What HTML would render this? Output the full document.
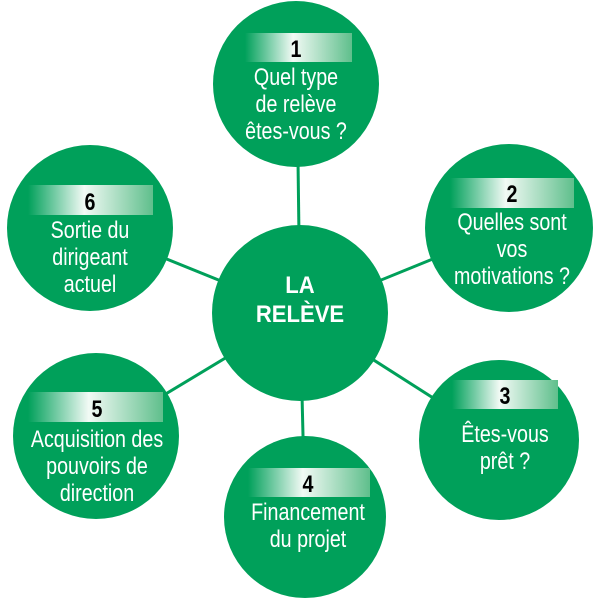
<!DOCTYPE html>
<html><head><meta charset="utf-8"><style>
html,body{margin:0;padding:0;background:#fff;width:600px;height:600px;overflow:hidden}
text{font-family:"Liberation Sans",sans-serif;fill:#fff;font-size:24px;text-anchor:middle}
.n{fill:#000;font-weight:bold;font-size:24px}
</style></head><body>
<svg width="600" height="600" viewBox="0 0 600 600">
<defs><linearGradient id="g" x1="0" x2="1"><stop offset="0" stop-color="#00a05a"/><stop offset="0.45" stop-color="#f2faf5"/><stop offset="1" stop-color="#5fbf8c"/></linearGradient></defs>
<g stroke="#00a05a" stroke-width="3">
<line x1="300" y1="313" x2="297" y2="84"/><line x1="300" y1="313" x2="509" y2="228"/><line x1="300" y1="313" x2="499" y2="440"/><line x1="300" y1="313" x2="305" y2="517"/><line x1="300" y1="313" x2="96" y2="436"/><line x1="300" y1="313" x2="90" y2="228"/>
</g>
<g fill="#00a05a">
<circle cx="300" cy="313" r="88"/><circle cx="296" cy="84" r="83"/><circle cx="509" cy="228" r="84"/><circle cx="499" cy="440" r="80"/><circle cx="305" cy="517" r="81"/><circle cx="96" cy="436" r="83"/><circle cx="90" cy="228" r="83"/>
</g>
<g fill="url(#g)">
<rect x="245" y="33" width="107" height="29"/><rect x="450" y="178" width="124" height="30"/><rect x="452" y="380" width="106" height="29"/><rect x="248" y="468" width="122" height="29"/><rect x="28" y="392" width="135" height="30"/><rect x="28" y="185" width="125" height="30"/>
</g>
<g transform="translate(300,0) scale(0.92,1)">
<text x="0" y="293" style="font-weight:bold">LA</text>
<text x="0" y="322" style="font-weight:bold">RELÈVE</text>
</g>
<g transform="translate(296,0) scale(0.82,1)"><text class="n" x="0" y="57">1</text>
<text x="0" y="85">Quel type</text><text x="0" y="112">de relève</text><text x="0" y="139">êtes-vous ?</text></g>
<g transform="translate(512,0) scale(0.82,1)"><text class="n" x="0" y="202">2</text>
<text x="0" y="230">Quelles sont</text><text x="0" y="257">vos</text><text x="0" y="284">motivations ?</text></g>
<g transform="translate(505,0) scale(0.82,1)"><text class="n" x="0" y="404">3</text>
<text x="0" y="442">Êtes-vous</text><text x="0" y="469">prêt ?</text></g>
<g transform="translate(308,0) scale(0.82,1)"><text class="n" x="0" y="492">4</text>
<text x="0" y="520">Financement</text><text x="0" y="547">du projet</text></g>
<g transform="translate(97,0) scale(0.82,1)"><text class="n" x="0" y="417">5</text>
<text x="0" y="447">Acquisition des</text><text x="0" y="474">pouvoirs de</text><text x="0" y="501">direction</text></g>
<g transform="translate(90,0) scale(0.82,1)"><text class="n" x="0" y="210">6</text>
<text x="0" y="238">Sortie du</text><text x="0" y="265">dirigeant</text><text x="0" y="292">actuel</text></g>
</svg>
</body></html>
